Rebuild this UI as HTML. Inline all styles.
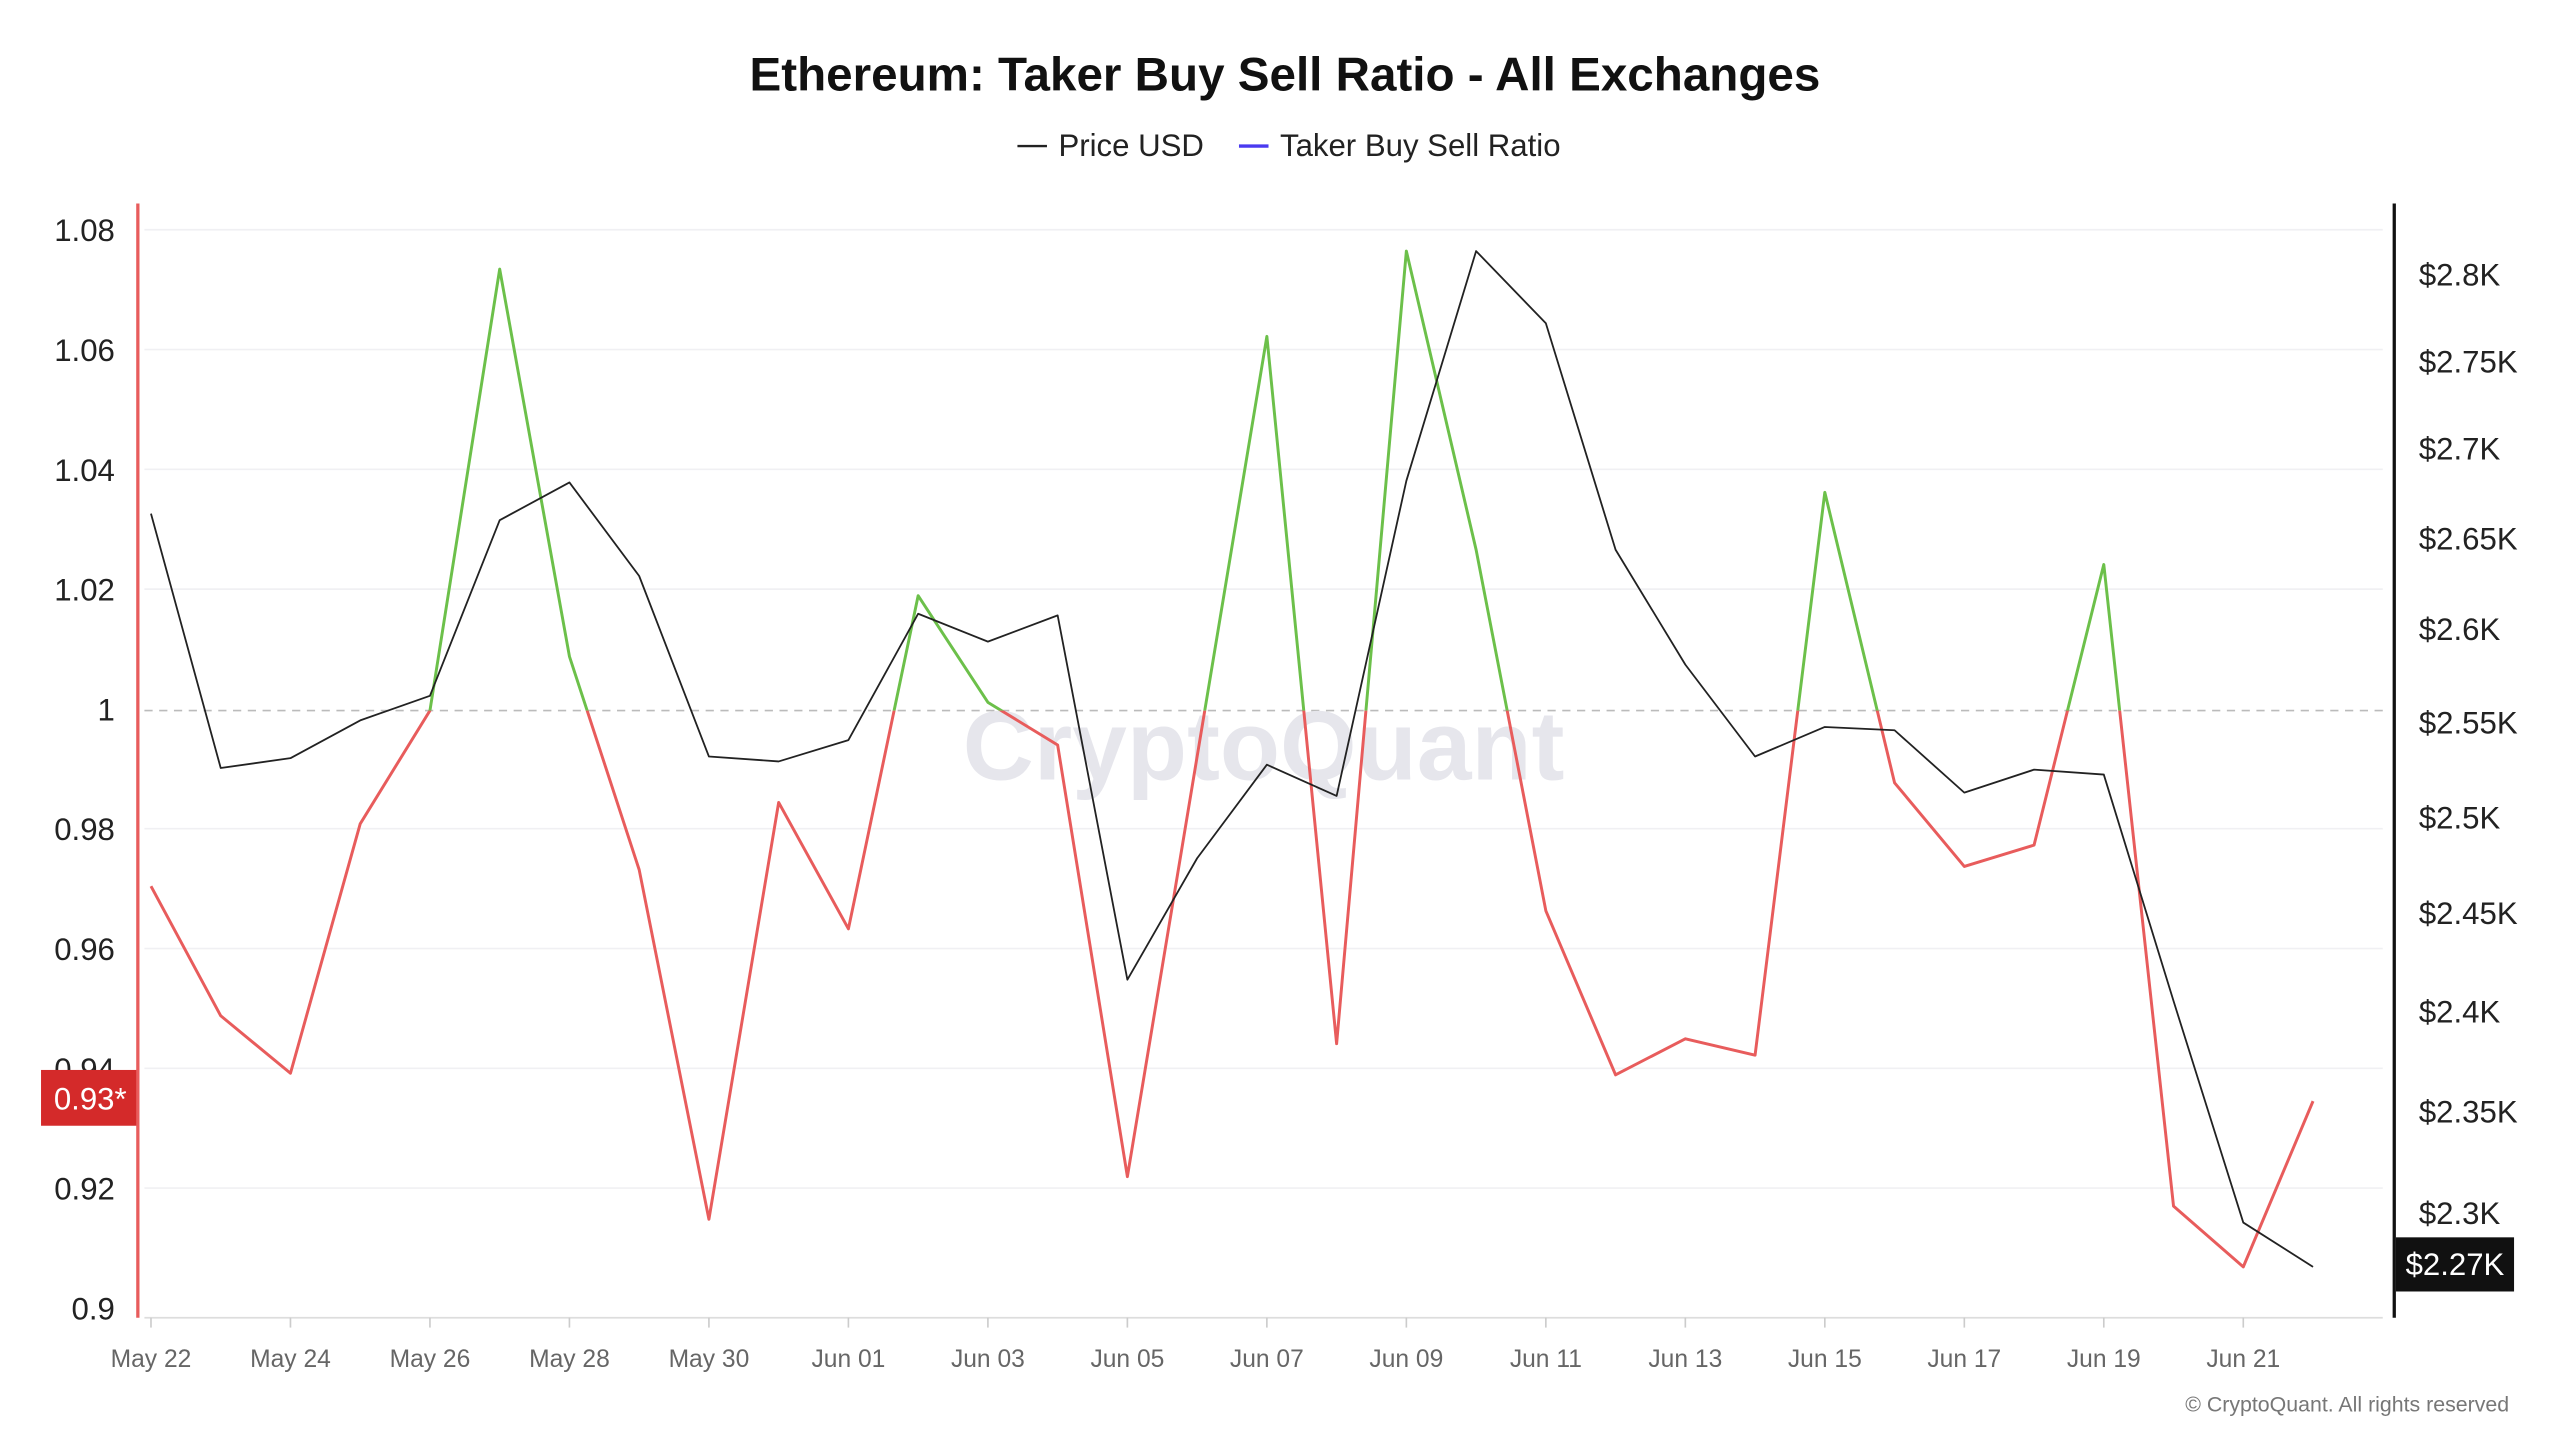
<!DOCTYPE html>
<html><head><meta charset="utf-8"><style>html,body{margin:0;padding:0;background:#fff;width:2560px;height:1440px;overflow:hidden}svg{display:block}text{font-family:"Liberation Sans",sans-serif}</style></head>
<body>
<svg width="2560" height="1440" viewBox="0 0 1560 877.5" xmlns="http://www.w3.org/2000/svg">
<defs>
<clipPath id="above"><rect x="0" y="0" width="1560" height="433"/></clipPath>
<clipPath id="below"><rect x="0" y="433" width="1560" height="500"/></clipPath>
</defs>
<text x="783" y="55" text-anchor="middle" font-size="29" font-weight="bold" fill="#111">Ethereum: Taker Buy Sell Ratio - All Exchanges</text>
<line x1="620" y1="89" x2="638" y2="89" stroke="#222" stroke-width="1.5"/>
<text x="645" y="95" font-size="19" fill="#222">Price USD</text>
<line x1="755" y1="89" x2="773" y2="89" stroke="#4a3af0" stroke-width="2"/>
<text x="780" y="95" font-size="19" fill="#222">Taker Buy Sell Ratio</text>
<g stroke="#f0f0f3" stroke-width="1">
<line x1="88" y1="140" x2="1452" y2="140"/><line x1="88" y1="213" x2="1452" y2="213"/><line x1="88" y1="286" x2="1452" y2="286"/><line x1="88" y1="359" x2="1452" y2="359"/><line x1="88" y1="505" x2="1452" y2="505"/><line x1="88" y1="578" x2="1452" y2="578"/><line x1="88" y1="651" x2="1452" y2="651"/><line x1="88" y1="724" x2="1452" y2="724"/>
</g>
<line x1="88" y1="433" x2="1452" y2="433" stroke="#bbb" stroke-dasharray="5,4"/>
<line x1="88" y1="803" x2="1452" y2="803" stroke="#ddd"/>
<g stroke="#ccc"><line x1="92" y1="803" x2="92" y2="809"/><line x1="177" y1="803" x2="177" y2="809"/><line x1="262" y1="803" x2="262" y2="809"/><line x1="347" y1="803" x2="347" y2="809"/><line x1="432" y1="803" x2="432" y2="809"/><line x1="517" y1="803" x2="517" y2="809"/><line x1="602" y1="803" x2="602" y2="809"/><line x1="687" y1="803" x2="687" y2="809"/><line x1="772" y1="803" x2="772" y2="809"/><line x1="857" y1="803" x2="857" y2="809"/><line x1="942" y1="803" x2="942" y2="809"/><line x1="1027" y1="803" x2="1027" y2="809"/><line x1="1112" y1="803" x2="1112" y2="809"/><line x1="1197" y1="803" x2="1197" y2="809"/><line x1="1282" y1="803" x2="1282" y2="809"/><line x1="1367" y1="803" x2="1367" y2="809"/></g>
<text x="770" y="475" text-anchor="middle" font-size="60" font-weight="bold" fill="#e6e6ec">CryptoQuant</text>
<g font-size="15" fill="#666" text-anchor="middle">
<text x="92" y="833">May 22</text><text x="177" y="833">May 24</text><text x="262" y="833">May 26</text><text x="347" y="833">May 28</text><text x="432" y="833">May 30</text><text x="517" y="833">Jun 01</text><text x="602" y="833">Jun 03</text><text x="687" y="833">Jun 05</text><text x="772" y="833">Jun 07</text><text x="857" y="833">Jun 09</text><text x="942" y="833">Jun 11</text><text x="1027" y="833">Jun 13</text><text x="1112" y="833">Jun 15</text><text x="1197" y="833">Jun 17</text><text x="1282" y="833">Jun 19</text><text x="1367" y="833">Jun 21</text>
</g>
<g font-size="19" fill="#222" text-anchor="end">
<text x="70" y="147">1.08</text><text x="70" y="220">1.06</text><text x="70" y="293">1.04</text><text x="70" y="366">1.02</text><text x="70" y="439">1</text><text x="70" y="512">0.98</text><text x="70" y="585">0.96</text><text x="70" y="658">0.94</text><text x="70" y="731">0.92</text><text x="70" y="804">0.9</text>
</g>
<rect x="25" y="652" width="59" height="34" fill="#d42a2a"/>
<text x="55" y="676" text-anchor="middle" font-size="19" fill="#fff">0.93*</text>
<line x1="84" y1="124" x2="84" y2="803" stroke="#e85c5c" stroke-width="2"/>
<g font-size="19" fill="#222">
<text x="1474" y="174">$2.8K</text><text x="1474" y="227">$2.75K</text><text x="1474" y="280">$2.7K</text><text x="1474" y="335">$2.65K</text><text x="1474" y="390">$2.6K</text><text x="1474" y="447">$2.55K</text><text x="1474" y="505">$2.5K</text><text x="1474" y="563">$2.45K</text><text x="1474" y="623">$2.4K</text><text x="1474" y="684">$2.35K</text><text x="1474" y="746">$2.3K</text>
</g>
<line x1="1459" y1="124" x2="1459" y2="803" stroke="#111" stroke-width="2"/>
<rect x="1460" y="754" width="72" height="33" fill="#111"/>
<text x="1496" y="777" text-anchor="middle" font-size="19" fill="#fff">$2.27K</text>
<g fill="none" stroke-width="1.8" stroke-linejoin="round">
<polyline clip-path="url(#above)" stroke="#6cc04a" points="92,540 134.5,619 177,654 219.5,502 262,433 304.5,164 347,400 389.5,530 432,743 474.5,489 517,566 559.5,363 602,428 644.5,454 687,717 729.5,461 772,205 814.5,636 857,153 899.5,335 942,555 984.5,655 1027,633 1069.5,643 1112,300 1154.5,477 1197,528 1239.5,515 1282,344 1324.5,735 1367,772 1409.5,671"/>
<polyline clip-path="url(#below)" stroke="#e85c5c" points="92,540 134.5,619 177,654 219.5,502 262,433 304.5,164 347,400 389.5,530 432,743 474.5,489 517,566 559.5,363 602,428 644.5,454 687,717 729.5,461 772,205 814.5,636 857,153 899.5,335 942,555 984.5,655 1027,633 1069.5,643 1112,300 1154.5,477 1197,528 1239.5,515 1282,344 1324.5,735 1367,772 1409.5,671"/>
<polyline stroke="#222" stroke-width="1.1" points="92,313 134.5,468 177,462 219.5,439 262,424 304.5,317 347,294 389.5,351 432,461 474.5,464 517,451 559.5,374 602,391 644.5,375 687,597 729.5,523 772,466 814.5,485 857,293 899.5,153 942,197 984.5,335 1027,405 1069.5,461 1112,443 1154.5,445 1197,483 1239.5,469 1282,472 1324.5,610 1367,745 1409.5,772"/>
</g>
<text x="1529" y="860" text-anchor="end" font-size="13" fill="#777">© CryptoQuant. All rights reserved</text>
</svg>
</body></html>
